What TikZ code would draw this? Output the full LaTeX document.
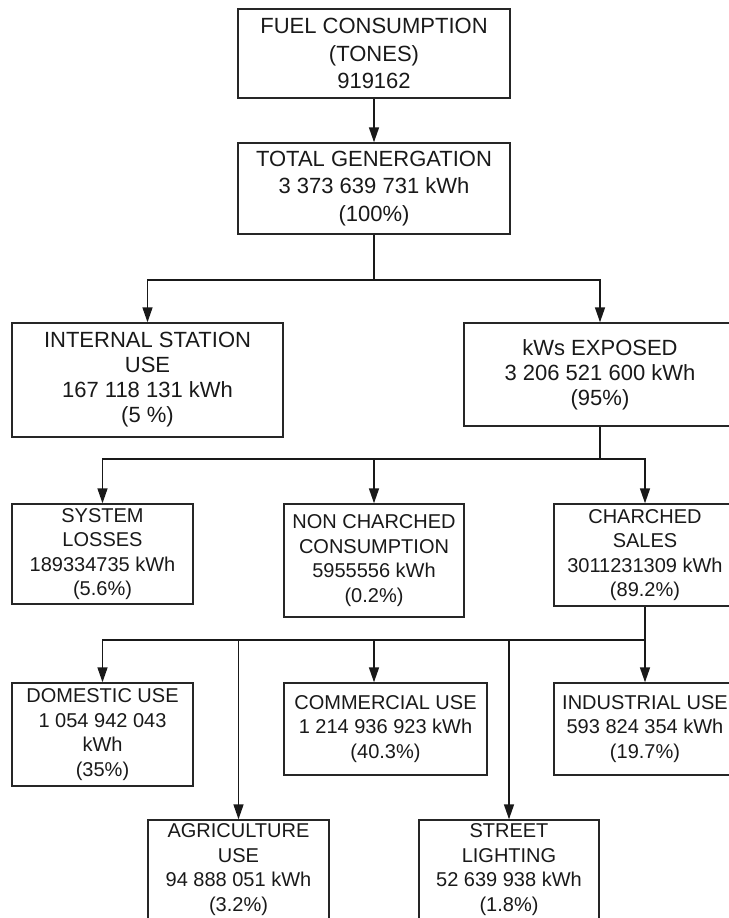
\documentclass[tikz,border=0pt]{standalone}
\usepackage{fontspec}
\setmainfont{Liberation Sans}
\usetikzlibrary{arrows.meta}
\tikzset{
  box/.style={draw=black!85, line width=1.4pt, align=center, inner sep=0pt, text=black!90},
  bigtxt/.style={font=\fontsize{22}{27.5}\selectfont},
  midtxt/.style={font=\fontsize{22}{25}\selectfont},
  smalltxt/.style={font=\fontsize{20}{24.5}\selectfont},
  conn/.style={draw=black!90, line width=1.5pt},
  arr/.style={conn, -{Triangle[length=15pt,width=10pt]}}
}
\begin{document}
\begin{tikzpicture}[x=1pt,y=-1pt]
\useasboundingbox (0,0) rectangle (728,918);
\node[box,bigtxt,minimum width=272,minimum height=89] (fuel) at (374,53.5) {FUEL CONSUMPTION\\(TONES)\\919162};
\node[box,bigtxt,minimum width=272,minimum height=91] (total) at (374,188.5) {TOTAL GENERGATION\\3 373 639 731 kWh\\(100\%)};
\node[box,midtxt,minimum width=271,minimum height=114] (internal) at (147.5,380) {INTERNAL STATION\\USE\\167 118 131 kWh\\(5 \%)};
\node[box,midtxt,minimum width=272,minimum height=103] (kws) at (600,374.5) {kWs EXPOSED\\3 206 521 600 kWh\\(95\%)};
\node[box,smalltxt,minimum width=181,minimum height=100] (sys) at (102.5,554) {SYSTEM\\LOSSES\\189334735 kWh\\(5.6\%)};
\node[box,smalltxt,minimum width=180,minimum height=113] (non) at (374,560.5) {NON CHARCHED\\CONSUMPTION\\5955556 kWh\\(0.2\%)};
\node[box,smalltxt,minimum width=182,minimum height=102] (ch) at (645,555) {CHARCHED\\SALES\\3011231309 kWh\\(89.2\%)};
\node[box,smalltxt,minimum width=181,minimum height=103] (dom) at (102.5,734.5) {DOMESTIC USE\\1 054 942 043\\kWh\\(35\%)};
\node[box,smalltxt,minimum width=203,minimum height=92] (com) at (385.5,729) {COMMERCIAL USE\\1 214 936 923 kWh\\(40.3\%)};
\node[box,smalltxt,minimum width=182,minimum height=92] (ind) at (645,729) {INDUSTRIAL USE\\593 824 354 kWh\\(19.7\%)};
\node[box,smalltxt,minimum width=181,minimum height=99] (agri) at (238.5,869.5) {AGRICULTURE\\USE\\94 888 051 kWh\\(3.2\%)};
\node[box,smalltxt,minimum width=180,minimum height=99] (street) at (509,869.5) {STREET\\LIGHTING\\52 639 938 kWh\\(1.8\%)};

\draw[arr] (fuel) -- (total);

\coordinate (b1) at (374,280);
\draw[conn] (total.south) -- (b1);
\draw[arr] (b1) -| (internal.north);
\draw[arr] (b1) -| (kws.north);

\coordinate (b2) at (600,459);
\draw[conn] (kws.south) -- (b2);
\draw[arr] (b2) -| (sys.north);
\draw[arr] (b2) -| (ch.north);
\draw[arr] (non.north |- b2) -- (non.north);

\coordinate (b3) at (645,640);
\coordinate (c3) at (374,640);
\draw[conn] (ch.south) -- (b3);
\draw[arr] (b3) -| (dom.north);
\draw[arr] (b3) -- (ind.north);
\draw[arr] (agri.north |- b3) -- (agri.north);
\draw[arr] (street.north |- b3) -- (street.north);
\draw[arr] (c3) -- (c3 |- com.north);
\end{tikzpicture}
\end{document}
